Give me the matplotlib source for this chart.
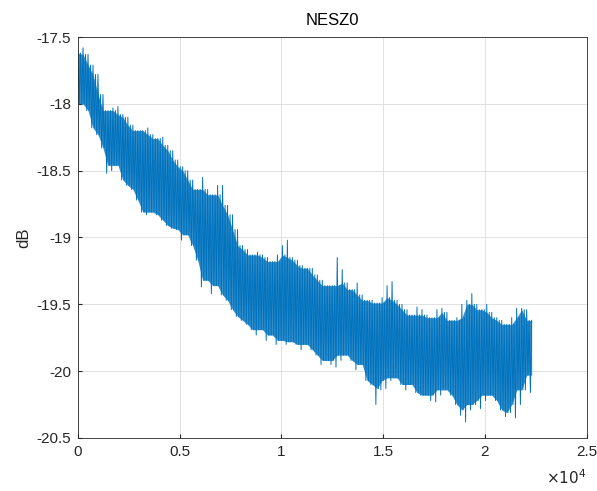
import numpy as np
import matplotlib
matplotlib.use("Agg")
import matplotlib.pyplot as plt
from matplotlib.ticker import FuncFormatter, MultipleLocator

# upper / lower spikes of the NESZ0 trace, read every ~245 samples
top = [-17.62, -17.58, -17.63, -17.71, -17.78, -17.93, -18.05, -18.03, -18.02, -18.08,
       -18.10, -18.16, -18.20, -18.20, -18.18, -18.23, -18.26, -18.25, -18.31, -18.35,
       -18.42, -18.47, -18.50, -18.57, -18.64, -18.55, -18.64, -18.68, -18.61, -18.61,
       -18.76, -18.83, -18.94, -19.06, -19.09, -19.13, -19.11, -19.13, -19.15, -19.18,
       -19.13, -19.06, -19.02, -19.15, -19.17, -19.21, -19.23, -19.23, -19.28, -19.32,
       -19.36, -19.36, -19.15, -19.24, -19.34, -19.39, -19.34, -19.43, -19.47, -19.47,
       -19.49, -19.45, -19.36, -19.33, -19.47, -19.50, -19.54, -19.58, -19.52, -19.54,
       -19.58, -19.60, -19.54, -19.53, -19.56, -19.62, -19.60, -19.50, -19.47, -19.42,
       -19.50, -19.54, -19.50, -19.56, -19.60, -19.62, -19.65, -19.60, -19.53, -19.53,
       -19.54, -19.62]
bottom = [-18.00, -18.05, -18.18, -18.23, -18.33, -18.52, -18.50, -18.46, -18.57, -18.61,
          -18.64, -18.72, -18.81, -18.83, -18.81, -18.83, -18.87, -18.91, -18.93, -18.94,
          -19.02, -18.98, -19.06, -19.17, -19.37, -19.32, -19.42, -19.36, -19.43, -19.47,
          -19.54, -19.59, -19.62, -19.65, -19.69, -19.73, -19.69, -19.77, -19.73, -19.80,
          -19.77, -19.80, -19.78, -19.80, -19.84, -19.80, -19.84, -19.88, -19.95, -19.92,
          -19.95, -19.97, -19.92, -19.88, -19.92, -19.99, -19.95, -20.07, -20.10, -20.25,
          -20.14, -20.13, -20.07, -20.05, -20.10, -20.14, -20.10, -20.16, -20.18, -20.18,
          -20.22, -20.23, -20.18, -20.14, -20.18, -20.25, -20.33, -20.38, -20.29, -20.25,
          -20.28, -20.22, -20.18, -20.22, -20.29, -20.34, -20.31, -20.35, -20.25, -20.14,
          -20.16, -20.03]
step = 245

n = len(top)
idx = np.arange(n) * step
top_a = np.array(top)
bot_a = np.array(bottom)

# dense core: lowest neighbouring spike top / highest neighbouring spike bottom
core_top = top_a.copy()
core_bot = bot_a.copy()
for i in range(n):
    lo, hi = max(0, i - 1), min(n, i + 2)
    core_top[i] = top_a[lo:hi].min()
    core_bot[i] = bot_a[lo:hi].max()

# trace: up spike, back into the core, down spike, for each read step
x = np.empty(4 * n)
y = np.empty(4 * n)
x[0::4] = idx
x[1::4] = idx + step * 0.25
x[2::4] = idx + step * 0.5
x[3::4] = idx + step * 0.75
y[0::4] = top_a
y[1::4] = core_bot
y[2::4] = core_top
y[3::4] = bot_a
x, y = x[:-3], y[:-3]

plt.rcParams['font.family'] = ['Liberation Sans', 'DejaVu Sans']
plt.rcParams['font.size'] = 11

fig = plt.figure(figsize=(5.97, 4.91), dpi=100)
ax = fig.add_axes([0.1307, 0.108, 0.852, 0.8166])
ax.fill_between(idx, core_top, core_bot, where=core_top > core_bot,
                color='#0072BD', alpha=0.8, lw=0)
ax.plot(x, y, color='#0072BD', lw=0.7)

ax.set_xlim(0, 25000)
ax.set_ylim(-20.5, -17.5)
ax.xaxis.set_major_locator(MultipleLocator(5000))
ax.yaxis.set_major_locator(MultipleLocator(0.5))
ax.xaxis.set_major_formatter(FuncFormatter(lambda v, p: '%g' % (v / 1e4)))
ax.yaxis.set_major_formatter(FuncFormatter(lambda v, p: '%g' % v))
ax.set_axisbelow(True)
ax.grid(True, color='#dcdcdc', lw=0.6)
ax.tick_params(direction='in', length=3, colors='#262626', labelsize=11, pad=5)
for s in ax.spines.values():
    s.set_color('#262626')
    s.set_linewidth(0.6)
ax.set_ylabel('dB', color='#262626', fontsize=12)
ax.set_title('NESZ0', color='#000000', fontsize=12, pad=9)
ax.text(1.0, -0.075, r'$\times10^{4}$', transform=ax.transAxes, ha='right', va='top',
        fontsize=11, color='#262626')

fig.savefig('out.png', dpi=100)
